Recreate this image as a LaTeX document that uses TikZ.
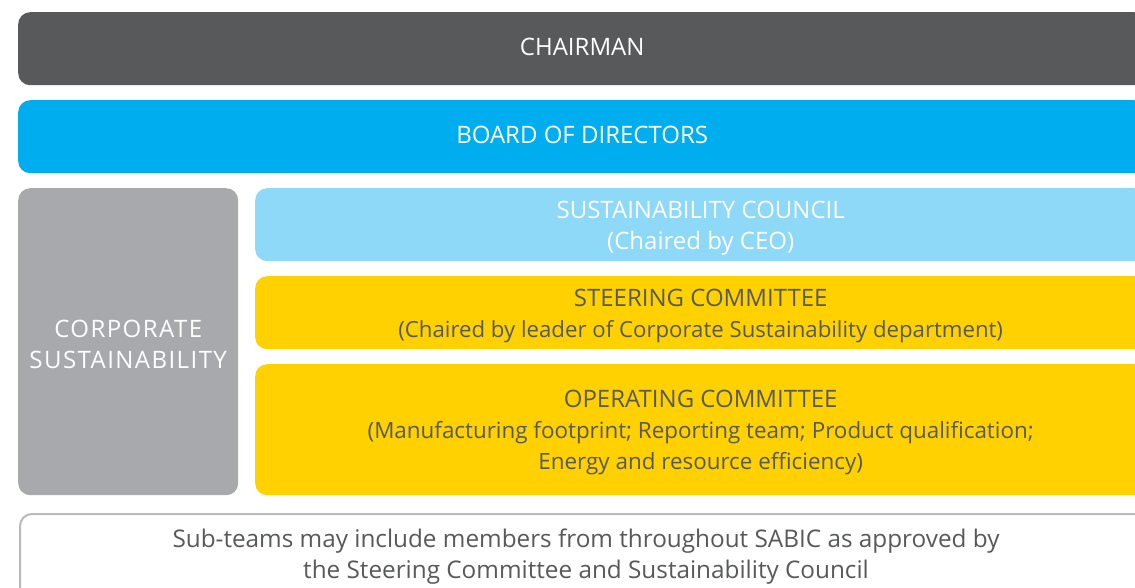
\documentclass[tikz,border=0pt]{standalone}
\usepackage{fontspec}
\setmainfont{Open Sans}
\definecolor{darkgrey}{HTML}{58595B}
\definecolor{sabicblue}{HTML}{00AEEF}
\definecolor{lightgrey}{HTML}{A7A9AC}
\definecolor{lightblue}{HTML}{8ED8F8}
\definecolor{sabicyellow}{HTML}{FFD100}
\tikzset{
  orgbox/.style={rectangle, rounded corners=12pt, anchor=north west, inner sep=0pt},
  label/.style={inner sep=0pt, align=center, font=\fontsize{24}{31}\selectfont},
  lighttext/.style={text=white},
  darktext/.style={text=darkgrey},
}
\newcommand{\smallline}[2]{{\fontsize{#1}{31}\selectfont #2}}
\begin{document}
\begin{tikzpicture}[x=1pt,y=-1pt]
\useasboundingbox (0,0) rectangle (1135,587);
\clip (0,0) rectangle (1135,587);
\node[orgbox, fill=darkgrey, minimum width=1128pt, minimum height=73pt] (chair) at (18,12) {};
\node[orgbox, fill=sabicblue, minimum width=1128pt, minimum height=73pt] (board) at (18,100) {};
\node[orgbox, fill=lightgrey, minimum width=220pt, minimum height=307pt] (corp) at (18,188) {};
\node[orgbox, fill=lightblue, minimum width=891pt, minimum height=73pt] (council) at (255,188) {};
\node[orgbox, fill=sabicyellow, minimum width=891pt, minimum height=73pt] (steer) at (255,276) {};
\node[orgbox, fill=sabicyellow, minimum width=891pt, minimum height=131pt] (oper) at (255,364) {};
\node[orgbox, draw=lightgrey!80, line width=2pt, fill=white, minimum width=1128pt, minimum height=100pt] (subteams) at (19,513) {};

\node[label, lighttext, yshift=2pt] (chairtxt) at (chair.center) {CHAIRMAN};
\node[label, lighttext, yshift=2pt] (boardtxt) at (board.center) {BOARD OF DIRECTORS};
\node[label, lighttext, yshift=-3pt, font=\fontsize{24}{31}\selectfont\addfontfeature{LetterSpace=6}] (corptxt) at (corp.center) {CORPORATE\\SUSTAINABILITY};
\node[label, lighttext, yshift=-3pt] (counciltxt) at (council.center) {SUSTAINABILITY COUNCIL\\(Chaired by CEO)};
\node[label, darktext, yshift=-3pt] (steertxt) at (steer.center) {STEERING COMMITTEE\\\smallline{22.2}{(Chaired by leader of Corporate Sustainability department)}};
\node[label, darktext, yshift=-3pt] (opertxt) at (oper.center) {OPERATING COMMITTEE\\\smallline{22.4}{(Manufacturing footprint; Reporting team; Product qualification;}\\\smallline{22.4}{Energy and resource efficiency)}};
\node[label, darktext, font=\fontsize{24.3}{31}\selectfont] (subtxt) at (586,557) {Sub-teams may include members from throughout SABIC as approved by\\the Steering Committee and Sustainability Council};
\end{tikzpicture}
\end{document}
